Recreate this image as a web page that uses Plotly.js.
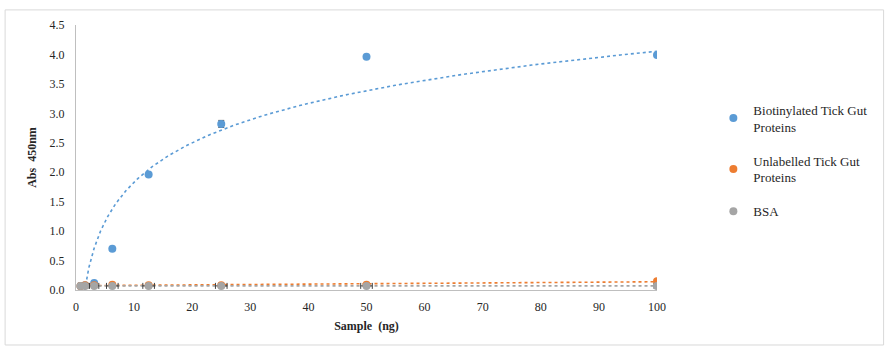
<!DOCTYPE html>
<html>
<head>
<meta charset="utf-8">
<script src="https://cdn.plot.ly/plotly-3.0.1.min.js"></script>
<style>html,body{margin:0;padding:0;background:#fff;}#chart{width:890px;height:349px;}</style>
</head>
<body>
<div id="chart"></div>
<script>
// Data
var sampleNg = [0.78, 1.56, 3.125, 6.25, 12.5, 25, 50, 100];
var biotinylated = [0.07, 0.08, 0.12, 0.70, 1.96, 2.82, 3.96, 3.99];
var biotinylatedErr = [0, 0, 0, 0, 0, 0.06, 0, 0];
var unlabelled = [0.07, 0.08, 0.08, 0.09, 0.08, 0.08, 0.09, 0.15];
var bsa = [0.07, 0.07, 0.07, 0.07, 0.07, 0.07, 0.07, 0.07];
var bsaXErr = [0.3, 0.5, 0.8, 1.0, 1.0, 1.0, 1.0, 0.5];
var seriesNames = ["Biotinylated Tick Gut<br>Proteins", "Unlabelled Tick Gut<br>Proteins", "BSA"];
var colors = ["#5B9BD5", "#ED7D31", "#A5A5A5"];

// least-squares trendlines computed from the data (Excel-style)
function fit(xs, ys) {
  var n = xs.length, mx = 0, my = 0;
  for (var i = 0; i < n; i++) { mx += xs[i]; my += ys[i]; }
  mx /= n; my /= n;
  var sxy = 0, sxx = 0;
  for (var j = 0; j < n; j++) { sxy += (xs[j]-mx)*(ys[j]-my); sxx += (xs[j]-mx)*(xs[j]-mx); }
  var b = sxy/sxx; return {a: my - b*mx, b: b};
}
var gridX = [];
for (var k = 0; k <= 300; k++) {
  gridX.push(Math.exp(Math.log(0.78) + (Math.log(100) - Math.log(0.78)) * k / 300));
}
var logFit = fit(sampleNg.map(Math.log), biotinylated);
var bioTrend = gridX.map(function(x){ return logFit.a + logFit.b*Math.log(x); });
var linU = fit(sampleNg, unlabelled);
var linB = fit(sampleNg, bsa);
var uTrend = gridX.map(function(x){ return linU.a + linU.b*x; });
var bTrend = gridX.map(function(x){ return linB.a + linB.b*x; });

var fam = "Liberation Serif";
var font = {family: fam, size: 12, color: "#262626"};
var legFont = {family: fam, size: 13, color: "#262626"};

var traces = [
  {x: gridX, y: bioTrend, mode: "lines", line: {color: colors[0], dash: "dot", width: 1.6}, showlegend: false, hoverinfo: "skip"},
  {x: gridX, y: uTrend, mode: "lines", line: {color: colors[1], dash: "dot", width: 1.6}, showlegend: false, hoverinfo: "skip"},
  {x: gridX, y: bTrend, mode: "lines", line: {color: colors[2], dash: "dot", width: 1.6}, showlegend: false, hoverinfo: "skip"},
  {x: sampleNg, y: biotinylated, name: seriesNames[0], mode: "markers", legendgroup: "a",
   marker: {color: colors[0], size: 8},
   error_y: {type: "data", array: biotinylatedErr, color: "#595959", thickness: 1, width: 3}},
  {x: sampleNg, y: unlabelled, name: seriesNames[1], mode: "markers", legendgroup: "b",
   marker: {color: colors[1], size: 8}},
  {x: sampleNg, y: bsa, name: seriesNames[2], mode: "markers", legendgroup: "c",
   marker: {color: colors[2], size: 8},
   error_x: {type: "data", array: bsaXErr, color: "#404040", thickness: 1, width: 3}}
];

var layout = {
  width: 890, height: 349,
  margin: {l: 76, r: 233, t: 25, b: 59},
  paper_bgcolor: "#fff", plot_bgcolor: "#fff",
  font: font,
  showlegend: true,
  legend: {x: 1.097, y: 0.737, xanchor: "left", yanchor: "top", font: legFont,
           traceorder: "grouped", tracegroupgap: 14, itemwidth: 30, bgcolor: "rgba(0,0,0,0)"},
  xaxis: {range: [0, 100], dtick: 10, showgrid: false, zeroline: false,
          showline: true, linecolor: "#BFBFBF", linewidth: 1, ticks: "", ticklabelstandoff: 6,
          tickfont: font,
          title: {text: "<b>Sample  (ng)</b>", font: font, standoff: 8}},
  yaxis: {range: [0, 4.5], dtick: 0.5, tickformat: ".1f", showgrid: false, zeroline: false,
          showline: true, linecolor: "#BFBFBF", linewidth: 1, ticks: "", ticklabelstandoff: 8,
          tickfont: font,
          title: {text: "<b>Abs  450nm</b>", font: font, standoff: 10}},
  shapes: [{type: "rect", xref: "paper", yref: "paper",
            x0: -0.122, x1: 1.39, y0: -0.2075, y1: 1.057,
            line: {color: "#D9D9D9", width: 1}, fillcolor: "rgba(0,0,0,0)", layer: "below"}]
};

Plotly.newPlot("chart", traces, layout, {staticPlot: true, displayModeBar: false});
</script>
</body>
</html>
